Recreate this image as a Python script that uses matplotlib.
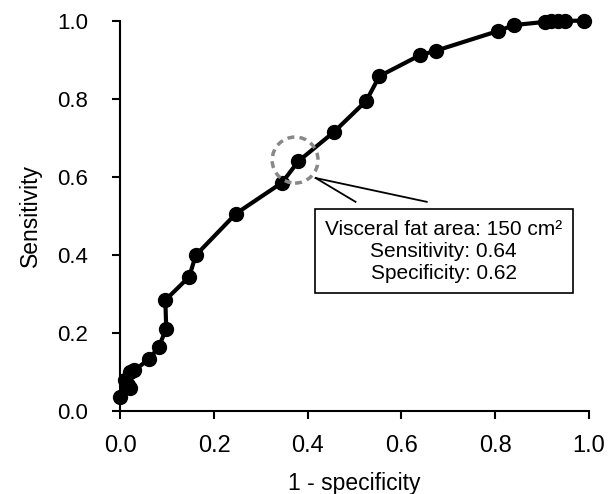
import matplotlib.pyplot as plt
from matplotlib.patches import Ellipse

plt.rcParams['font.family'] = ['Liberation Sans', 'DejaVu Sans']

# ROC points (1 - specificity, sensitivity)
fpr = [0.0, 0.01, 0.02, 0.02, 0.016, 0.03, 0.062, 0.082, 0.098, 0.096, 0.147, 0.161,
       0.247, 0.345, 0.38, 0.456, 0.525, 0.553, 0.64, 0.673, 0.807, 0.841, 0.906,
       0.92, 0.935, 0.95, 0.99]
tpr = [0.036, 0.08, 0.10, 0.06, 0.066, 0.104, 0.134, 0.164, 0.211, 0.284, 0.344, 0.399,
       0.506, 0.585, 0.64, 0.715, 0.795, 0.858, 0.912, 0.923, 0.974, 0.989, 0.997,
       1.0, 1.0, 1.0, 1.0]

# highlighted cut-off
cut_x, cut_y = 0.38, 0.64
cut_text = 'Visceral fat area: 150 cm²\nSensitivity: 0.64\nSpecificity: 0.62'

fig = plt.figure(figsize=(6.14, 4.94), dpi=100)
ax = fig.add_axes([0.196, 0.168, 0.763, 0.79])

ax.plot(fpr, tpr, color='black', linewidth=3, marker='o', markersize=10, clip_on=False, zorder=3)

# dashed circle round the cut-off point
ax.add_patch(Ellipse((cut_x - 0.007, cut_y + 0.003), 46 / 470, 46 / 390, fill=False,
                     edgecolor='#888888', linestyle=(0, (2, 1.5)), linewidth=2.5, zorder=4))

# callout lines and box
ax.plot([0.417, 0.502], [0.597, 0.536], color='black', linewidth=1.3, zorder=2)
ax.plot([0.417, 0.654], [0.597, 0.536], color='black', linewidth=1.3, zorder=2)
ax.text(0.69, 0.41, cut_text, ha='center', va='center', fontsize=15, linespacing=1.2,
        bbox=dict(boxstyle='square,pad=0.5', facecolor='white', edgecolor='black', linewidth=1.2),
        zorder=5)

ax.set_xlim(0, 1.0)
ax.set_ylim(0, 1.0)
ax.set_xticks([0.0, 0.2, 0.4, 0.6, 0.8, 1.0])
ax.set_yticks([0.0, 0.2, 0.4, 0.6, 0.8, 1.0])
ax.set_xticklabels(['0.0', '0.2', '0.4', '0.6', '0.8', '1.0'])
ax.set_yticklabels(['0.0', '0.2', '0.4', '0.6', '0.8', '1.0'])
ax.tick_params(length=6, width=1.5, direction='out')
ax.tick_params(axis='x', labelsize=17, pad=11)
ax.tick_params(axis='y', labelsize=16, pad=17)
for side in ['top', 'right']:
    ax.spines[side].set_visible(False)
for side in ['left', 'bottom']:
    ax.spines[side].set_linewidth(1.5)

ax.set_xlabel('1 - specificity', fontsize=16.5, labelpad=11)
ax.set_ylabel('Sensitivity', fontsize=16.5, labelpad=11)

fig.savefig('out.png', dpi=100)
